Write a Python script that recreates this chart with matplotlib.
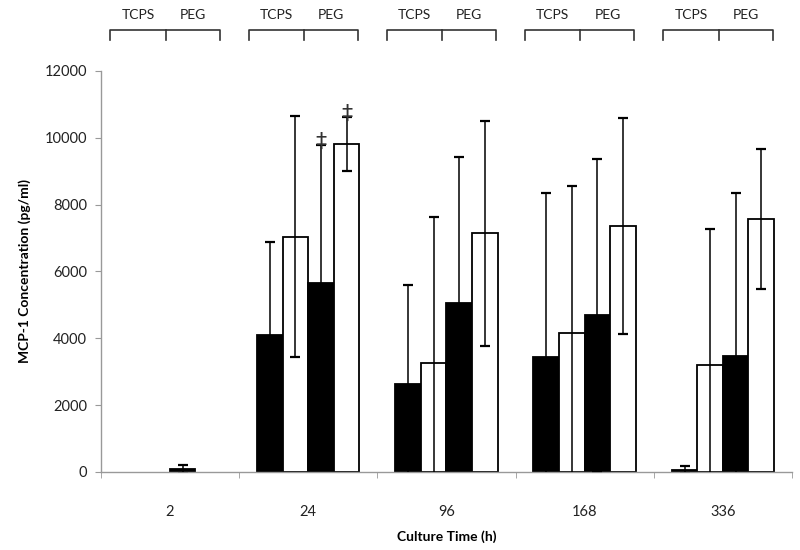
import matplotlib
matplotlib.use('Agg')
import matplotlib.pyplot as plt
import matplotlib.transforms as mtransforms
import numpy as np

plt.rcParams['font.family'] = ['Lato', 'DejaVu Sans']

times = ['2', '24', '96', '168', '336']

# black / white bars for each surface
tcps_black = [0, 4100, 2620, 3450, 60]
tcps_black_err = [0, 2780, 2960, 4910, 120]
tcps_white = [0, 7040, 3270, 4170, 3190]
tcps_white_err = [0, 3600, 4360, 4400, 4090]
peg_black = [80, 5640, 5060, 4700, 3480]
peg_black_err = [130, 4150, 4370, 4670, 4880]
peg_white = [0, 9820, 7140, 7360, 7570]
peg_white_err = [0, 810, 3360, 3220, 2090]

# significance marks: (group index, series index)
marks = [(1, 2), (1, 3)]

series = [
    (tcps_black, tcps_black_err, 'black'),
    (tcps_white, tcps_white_err, 'white'),
    (peg_black, peg_black_err, 'black'),
    (peg_white, peg_white_err, 'white'),
]

fig = plt.figure(figsize=(8, 5.5), dpi=100)
ax = fig.add_axes([0.126, 0.142, 0.864, 0.729])

x = np.arange(len(times))
w = 0.185
offsets = [-1.5 * w, -0.5 * w, 0.5 * w, 1.5 * w]

for (vals, errs, col), off in zip(series, offsets):
    vals = np.array(vals, dtype=float)
    errs = np.array(errs, dtype=float)
    keep = vals > 0
    ax.bar(x[keep] + off, vals[keep], w, color=col, edgecolor='black', linewidth=1.3, zorder=2)
    ax.errorbar(x[keep] + off, vals[keep], yerr=errs[keep], fmt='none',
                ecolor='black', elinewidth=1.1, capsize=3.5, capthick=1.6, zorder=3)

for g, s in marks:
    vals, errs, _ = series[s]
    ax.text(x[g] + offsets[s], vals[g] + errs[g] - 200, '\u2021', ha='center',
            va='bottom', fontsize=16, color='#333333', family='DejaVu Sans')

ax.set_xlim(-0.5, len(times) - 0.5)
ax.set_ylim(0, 12000)
ax.set_yticks(np.arange(0, 12001, 2000))
ax.set_xticks(x)
ax.set_xticklabels(times)
ax.set_xticks(np.arange(-0.5, len(times)), minor=True)
ax.tick_params(axis='x', which='major', length=0, pad=24, labelsize=10.5, colors='#222222')
ax.tick_params(axis='x', which='minor', length=4, color='#999999')
ax.tick_params(axis='y', length=4, color='#999999', labelsize=10.5, labelcolor='#222222', pad=6)

for side in ['top', 'right']:
    ax.spines[side].set_visible(False)
for side in ['left', 'bottom']:
    ax.spines[side].set_color('#999999')
    ax.spines[side].set_linewidth(1.0)

ax.set_xlabel('Culture Time (h)', fontsize=10, fontweight='bold', labelpad=8)
ax.set_ylabel('MCP-1 Concentration (pg/ml)', fontsize=10, fontweight='bold', labelpad=10)

# brackets above each group
trans = mtransforms.blended_transform_factory(ax.transData, ax.transAxes)
for xc in x:
    left, mid, right = xc - 0.43, xc - 0.03, xc + 0.36
    ax.plot([left, left, right, right], [1.077, 1.102, 1.102, 1.077], color='#333333',
            lw=1.2, transform=trans, clip_on=False)
    ax.plot([mid, mid], [1.102, 1.077], color='#333333', lw=1.2, transform=trans, clip_on=False)
    ax.text((left + mid) / 2, 1.14, 'TCPS', ha='center', va='center', fontsize=10,
            transform=trans, color='#222222')
    ax.text((mid + right) / 2, 1.14, 'PEG', ha='center', va='center', fontsize=10,
            transform=trans, color='#222222')

fig.savefig('out.png', dpi=100)
